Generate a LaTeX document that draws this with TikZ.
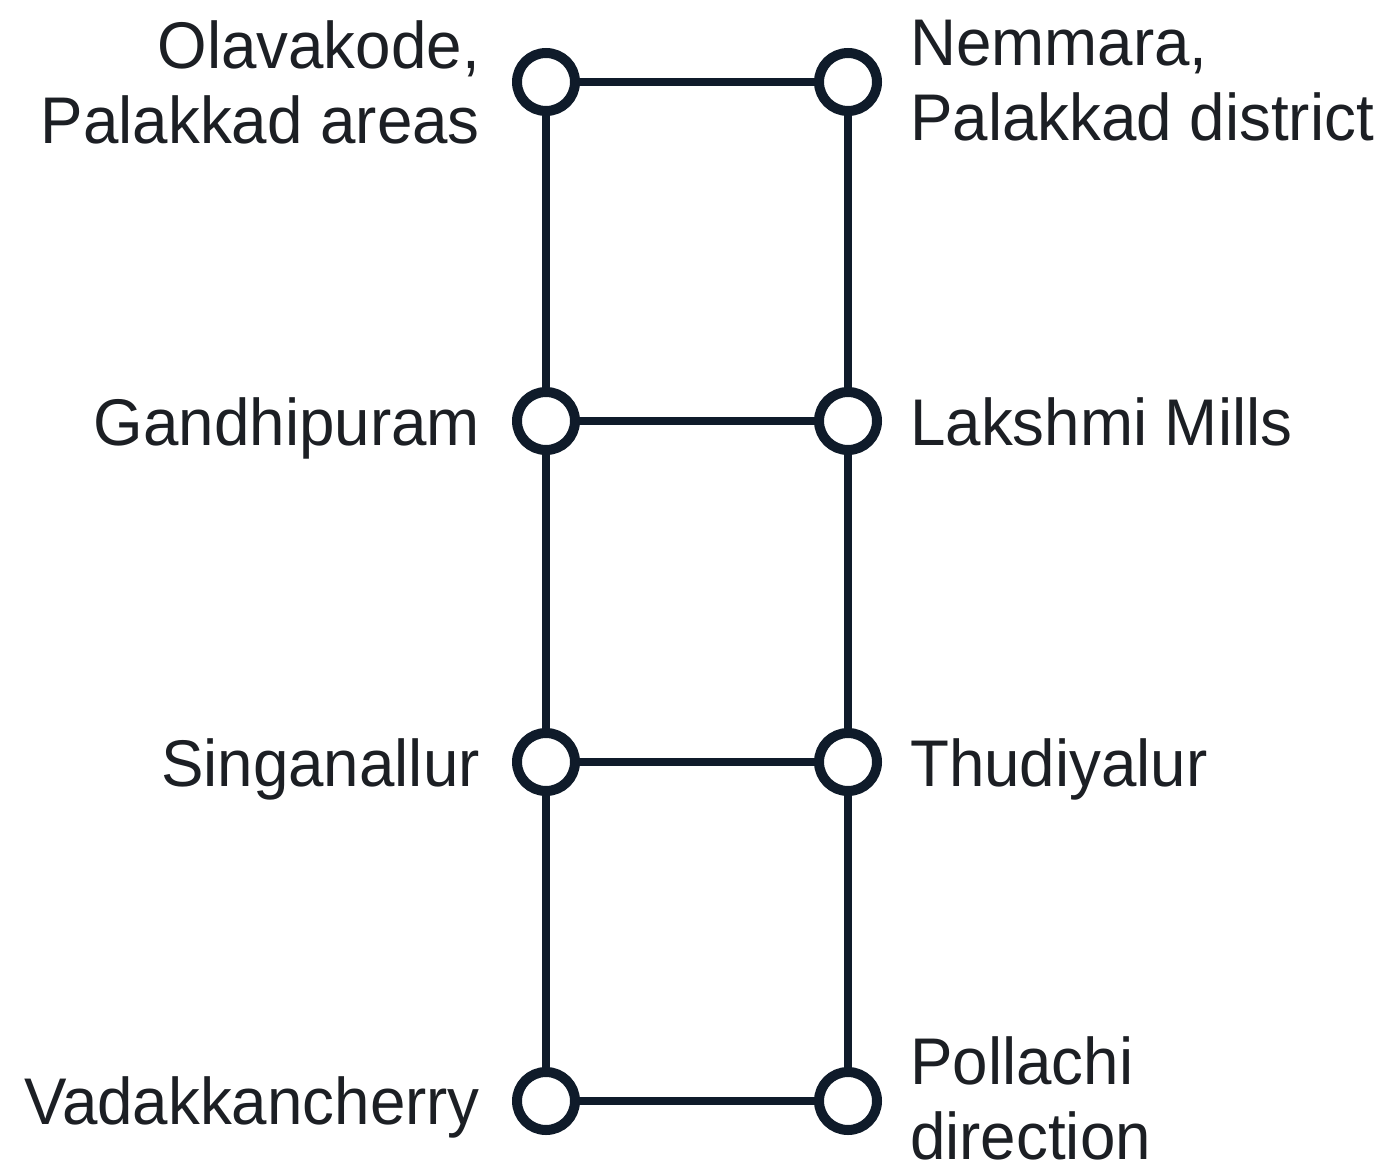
\documentclass[tikz,border=0pt]{standalone}
\usepackage{fontspec}
\setmainfont{Liberation Sans}[FakeStretch=0.965]
\definecolor{navy}{HTML}{0F1B2A}
\definecolor{ink}{HTML}{1C1F24}
\begin{document}
\begin{tikzpicture}[x=1pt,y=-1pt,
  stop/.style={circle,draw=navy,line width=10pt,fill=white,minimum size=58pt,inner sep=0pt},
  track/.style={draw=navy,line width=8pt},
  lbl/.style={text=ink,inner sep=0pt,font=\fontsize{66}{75}\selectfont}]
\fill[white] (0,0) rectangle (1392,1164);
\useasboundingbox (0,0) rectangle (1392,1164);
\node[stop] (l1) at (546,82) {};
\node[stop] (r1) at (848,82) {};
\node[stop] (l2) at (546,421) {};
\node[stop] (r2) at (848,421) {};
\node[stop] (l3) at (546,762) {};
\node[stop] (r3) at (848,762) {};
\node[stop] (l4) at (546,1101) {};
\node[stop] (r4) at (848,1101) {};
\draw[track] (l1) -- (l2);
\draw[track] (l2) -- (l3);
\draw[track] (l3) -- (l4);
\draw[track] (r1) -- (r2);
\draw[track] (r2) -- (r3);
\draw[track] (r3) -- (r4);
\draw[track] (l1) -- (r1);
\draw[track] (l2) -- (r2);
\draw[track] (l3) -- (r3);
\draw[track] (l4) -- (r4);
\node[lbl,anchor=north east,align=right] (t1) at (480,20) {Olavakode,\\Palakkad areas};
\node[lbl,anchor=north west,align=left] (u1) at (910,20) {Nemmara,\\Palakkad district};
\node[lbl,anchor=base east] (t2) at (480,445) {Gandhipuram};
\node[lbl,anchor=base west] (u2) at (910,445) {Lakshmi Mills};
\node[lbl,anchor=base east] (t3) at (480,786) {Singanallur};
\node[lbl,anchor=base west] (u3) at (910,786) {Thudiyalur};
\node[lbl,anchor=base east] (t4) at (480,1124) {Vadakkancherry};
\node[lbl,anchor=north west,align=left] (u4) at (910,1036) {Pollachi\\direction};
\end{tikzpicture}
\end{document}
